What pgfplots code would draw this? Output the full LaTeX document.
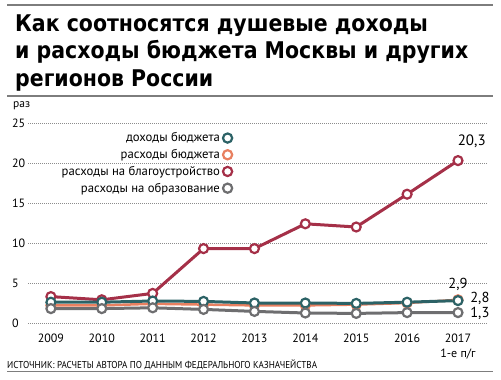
\documentclass[border=0pt]{standalone}
\usepackage{fontspec}
\setmainfont{PT Sans}
\newfontfamily\titlefont{DejaVu Sans}
\usepackage{graphicx}
\usepackage{pgfplots}
\pgfplotsset{compat=1.18}
\definecolor{cred}{RGB}{165,48,72}
\definecolor{cteal}{RGB}{44,98,102}
\definecolor{corange}{RGB}{232,128,96}
\definecolor{cgrey}{RGB}{110,110,112}
\definecolor{rulegray}{RGB}{125,125,125}
\newlength\tlw
\begin{document}
\settowidth\tlw{\titlefont\bfseries\fontsize{23}{27}\selectfont и расходы бюджета Москвы и других}%
\pgfmathsetmacro\tsx{453/\tlw}%
\begin{tikzpicture}
\useasboundingbox (0,0) rectangle (501pt,-380pt);
\draw[rulegray, line width=1.5pt] (7pt,-5pt) -- (493pt,-5pt);
\begin{scope}[every node/.style={anchor=base west, inner sep=0pt, font=\titlefont\bfseries\fontsize{23}{27}\selectfont}]
\node at (15pt,-31.7pt) {\scalebox{\tsx}[1]{Как соотносятся душевые доходы}};
\node at (15pt,-58.5pt) {\scalebox{\tsx}[1]{и расходы бюджета Москвы и других}};
\node at (15pt,-86pt) {\scalebox{\tsx}[1]{регионов России}};
\end{scope}
\draw[rulegray, line width=2.5pt] (7pt,-96pt) -- (493pt,-96pt);
\node[anchor=base west, inner sep=0pt, font=\fontsize{11.5}{13}\selectfont] at (13pt,-107.5pt) {раз};
\node[anchor=base west, inner sep=0pt, font=\fontsize{10}{12}\selectfont] at (7pt,-368pt) {\scalebox{0.91}[1]{ИСТОЧНИК: РАСЧЕТЫ АВТОРА ПО ДАННЫМ ФЕДЕРАЛЬНОГО КАЗНАЧЕЙСТВА}};
\draw[rulegray, line width=0.8pt] (7pt,-371.7pt) -- (493pt,-371.7pt);
\begin{axis}[
  at={(28pt,-323pt)}, anchor=south west,
  scale only axis, width=459pt, height=200pt,
  xmin=-0.45, xmax=8.57, ymin=0, ymax=25,
  clip=false,
  axis line style={draw=none},
  major tick length=0pt,
  xtick={0,...,8},
  xticklabels={2009,2010,2011,2012,2013,2014,2015,2016,{2017\\1-е п/г}},
  xticklabel style={align=center, font=\fontsize{12}{14.3}\selectfont, inner sep=0pt, anchor=north, yshift=-11pt},
  ytick={0,5,10,15,20,25},
  yticklabel style={anchor=west, inner sep=0pt, xshift=-16pt, font=\fontsize{12}{13}\selectfont},
  /pgf/number format/assume math mode=true,
  ymajorgrids,
  grid style={gray!90, line width=0.6pt, dash pattern=on 0.7pt off 1.3pt},
  legend plot pos=right,
  legend cell align=right,
  legend image code/.code={\draw[#1, fill=white, line width=2.2pt] (0pt,0pt) circle (4.6pt);},
  legend style={at={(0.4477,0.955)}, anchor=north east, draw=none, fill=none, inner sep=0pt,
    font=\fontsize{12.7}{14}\selectfont, row sep=5pt,
    nodes={inner ysep=0.5pt, inner xsep=2pt}},
]
\addlegendimage{cteal}\addlegendentry{доходы бюджета}
\addlegendimage{corange}\addlegendentry{расходы бюджета}
\addlegendimage{cred}\addlegendentry{расходы на благоустройство}
\addlegendimage{cgrey}\addlegendentry{расходы на образование}
\addplot[forget plot, cred, line width=3pt, mark=*, mark size=4.5pt, mark options={fill=white, line width=2.2pt, draw=cred}]
 coordinates {(0,3.3) (1,2.9) (2,3.7) (3,9.3) (4,9.3) (5,12.4) (6,12.0) (7,16.1) (8,20.3)};
\addplot[forget plot, corange, line width=2.5pt, mark=*, mark size=4.5pt, mark options={fill=white, line width=2.2pt, draw=corange}]
 coordinates {(0,2.2) (1,2.2) (2,2.4) (3,2.3) (4,2.2) (5,2.2) (6,2.3) (7,2.5) (8,2.9)};
\addplot[forget plot, cteal, line width=3pt, mark=*, mark size=4.5pt, mark options={fill=white, line width=2.2pt, draw=cteal}]
 coordinates {(0,2.6) (1,2.6) (2,2.75) (3,2.7) (4,2.5) (5,2.5) (6,2.45) (7,2.6) (8,2.8)};
\addplot[forget plot, cgrey, line width=3pt, mark=*, mark size=4.5pt, mark options={fill=white, line width=2.2pt, draw=cgrey}]
 coordinates {(0,1.8) (1,1.8) (2,1.9) (3,1.7) (4,1.45) (5,1.25) (6,1.2) (7,1.3) (8,1.3)};
\node[font=\fontsize{15}{16}\selectfont] at (axis cs:8.27,22.7) {20,3};
\node[font=\fontsize{14.5}{16}\selectfont] at (axis cs:8.0,4.85) {2,9};
\node[font=\fontsize{14.5}{16}\selectfont] at (axis cs:8.43,3.1) {2,8};
\node[font=\fontsize{14.5}{16}\selectfont] at (axis cs:8.43,1.2) {1,3};
\end{axis}
\end{tikzpicture}
\end{document}
